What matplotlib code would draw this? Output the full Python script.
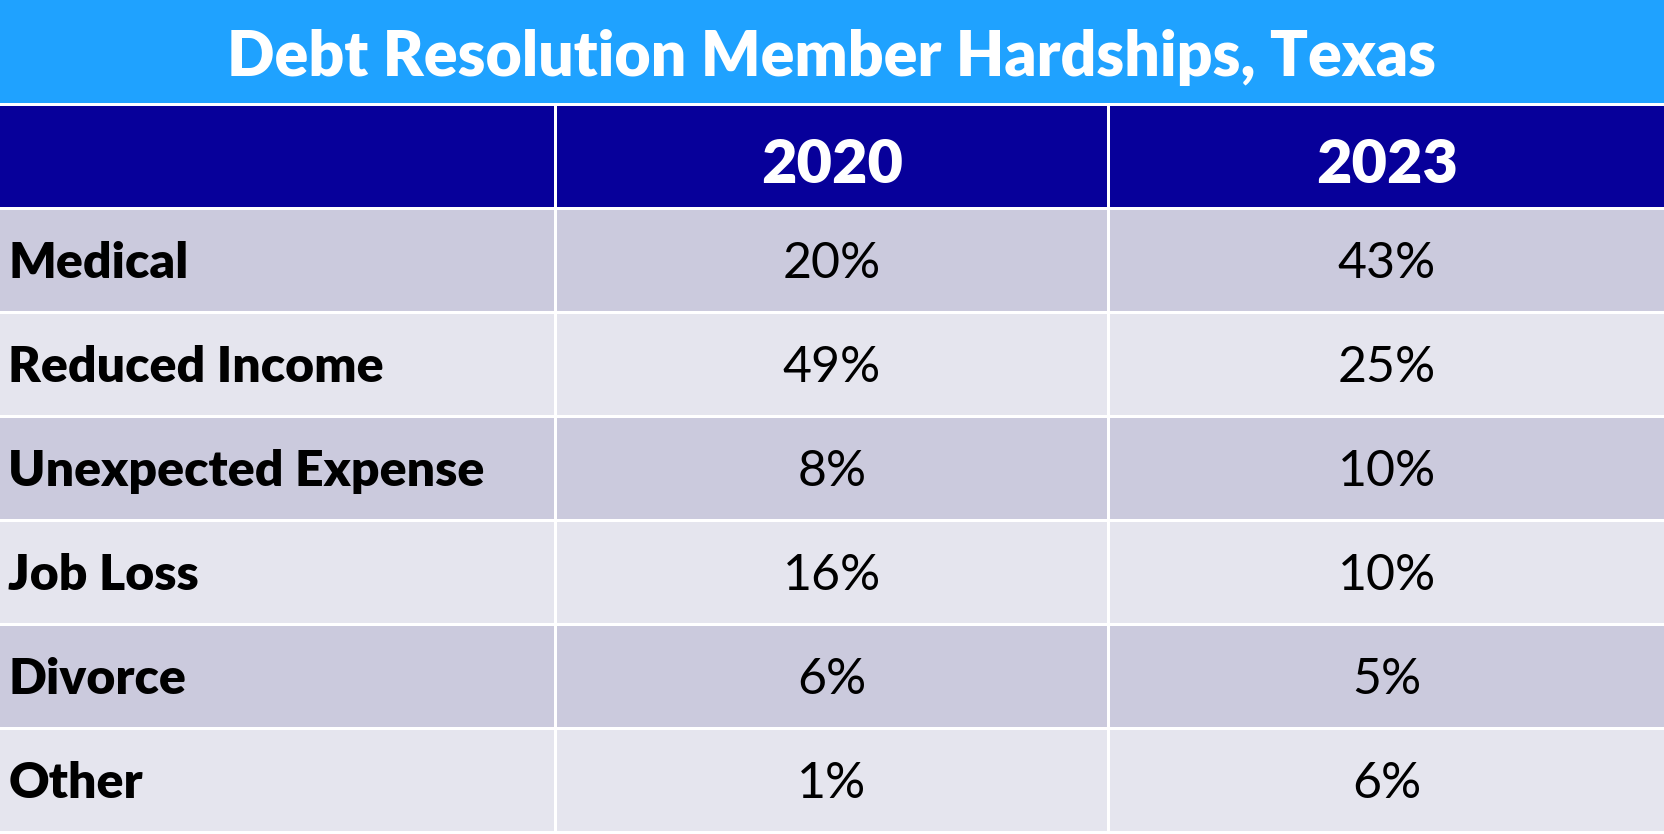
import matplotlib
matplotlib.use("Agg")
import matplotlib.pyplot as plt
from matplotlib.patches import Rectangle

title = "Debt Resolution Member Hardships, Texas"
years = ["2020", "2023"]
categories = ["Medical", "Reduced Income", "Unexpected Expense", "Job Loss", "Divorce", "Other"]
values_2020 = [20, 49, 8, 16, 6, 1]
values_2023 = [43, 25, 10, 10, 5, 6]

W, H = 1568, 786
fig = plt.figure(figsize=(16.64, 8.34), dpi=100)
ax = fig.add_axes([0, 0, 1, 1])
ax.set_xlim(0, W); ax.set_ylim(H, 0); ax.axis("off")
fig.patch.set_facecolor("white")

font = "Lato"
cols = [(0, 522), (525, 1043), (1046, W)]
# title
ax.add_patch(Rectangle((0, 0), W, 97, color="#1FA2FF", lw=0))
ax.text(W / 2, 54, title, color="white", fontsize=45, fontweight="heavy", family=font, ha="center", va="center")
# header
top, rh = 100, 95
for i, (x0, x1) in enumerate(cols):
    ax.add_patch(Rectangle((x0, top), x1 - x0, rh, color="#07009A", lw=0))
    if i > 0:
        ax.text((x0 + x1) / 2, top + rh / 2 + 8, years[i - 1], color="white", fontsize=44,
                fontweight="heavy", family=font, ha="center", va="center")
# rows
series = [values_2020, values_2023]
for r, cat in enumerate(categories):
    y0 = 198 + r * 98
    c = "#CBCADD" if r % 2 == 0 else "#E5E5EE"
    for i, (x0, x1) in enumerate(cols):
        ax.add_patch(Rectangle((x0, y0), x1 - x0, 95, color=c, lw=0))
    ax.text(8, y0 + 64, cat, fontsize=36, fontweight="heavy", family=font, ha="left",
            va="baseline", color="black")
    for k in range(2):
        x0, x1 = cols[k + 1]
        ax.text((x0 + x1) / 2, y0 + 64, f"{series[k][r]}%", fontsize=36, family=font,
                ha="center", va="baseline", color="black")

fig.savefig("out.png", dpi=100)
